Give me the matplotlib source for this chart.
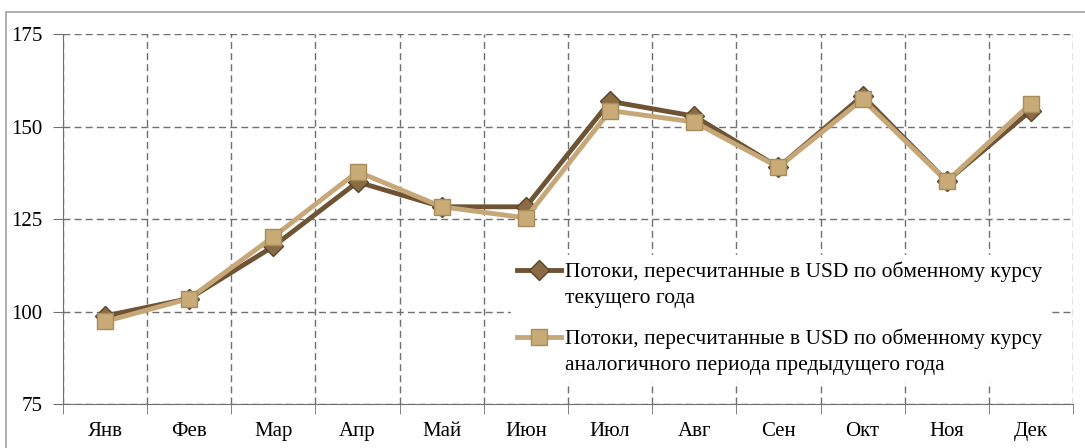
import numpy as np
import matplotlib.pyplot as plt
from matplotlib.patches import Rectangle
from matplotlib.legend_handler import HandlerLine2D

months = ["Янв", "Фев", "Мар", "Апр", "Май", "Июн", "Июл", "Авг", "Сен", "Окт", "Ноя", "Дек"]
current_rate = [98.8, 103.5, 117.6, 135.0, 128.3, 128.3, 156.8, 152.8, 139.0, 158.3, 135.2, 154.3]
prev_rate = [97.3, 103.5, 120.2, 137.8, 128.3, 125.3, 154.3, 151.2, 139.0, 157.3, 135.2, 156.2]
label_cur = "Потоки, пересчитанные в USD по обменному курсу\nтекущего года"
label_prev = "Потоки, пересчитанные в USD по обменному курсу\nаналогичного периода предыдущего года"

plt.rcParams['font.family'] = ['Liberation Serif', 'DejaVu Serif']


# legend marker sits beside the first text line, not in the middle
class FirstLineHandler(HandlerLine2D):
    def create_artists(self, legend, orig_handle, xdescent, ydescent, width, height, fontsize, trans):
        return super().create_artists(legend, orig_handle, xdescent, ydescent - 20,
                                      width, height, fontsize, trans)


fig = plt.figure(figsize=(10.85, 4.48), dpi=100)
ax = fig.add_axes([63/1085, 1-404/448, (1073-63)/1085, (404-34)/448])

# outer chart border
fig.patches.append(Rectangle((6/1085, -0.1), 1.1, 1-12/448+0.1, transform=fig.transFigure,
                             fill=False, edgecolor='#a0a0a0', linewidth=1.2))

x = np.arange(len(months))
l1, = ax.plot(x, current_rate, color='#6e5434', linewidth=3.5, marker='D', markersize=10,
              markerfacecolor='#8a6c44', markeredgecolor='#5a4328', label=label_cur, zorder=3)
l2, = ax.plot(x, prev_rate, color='#c6a878', linewidth=3.5, marker='s', markersize=12,
              markerfacecolor='#c8ab76', markeredgecolor='#a88c5c', label=label_prev, zorder=4)

ax.set_xlim(-0.5, 11.5)
ax.set_ylim(75, 175)
ax.set_yticks([75, 100, 125, 150, 175])
ax.set_xticks(x)
ax.set_xticklabels(months)
ax.set_xticks(np.arange(-0.5, 12), minor=True)
ax.tick_params(axis='x', which='major', length=0, pad=13, labelsize=15)
ax.tick_params(axis='x', which='minor', length=7, color='#707070')
ax.tick_params(axis='y', length=7, color='#707070', labelsize=15, pad=8)

ax.grid(True, axis='y', which='major', linestyle=(0, (5, 3)), color='#707070', linewidth=1)
ax.grid(True, axis='x', which='minor', linestyle=(0, (5, 3)), color='#707070', linewidth=1)
ax.set_axisbelow(True)

for s in ['top', 'right']:
    ax.spines[s].set_visible(False)
for s in ['left', 'bottom']:
    ax.spines[s].set_color('#707070')

leg = ax.legend(handles=[l1, l2], loc='upper left', bbox_to_anchor=(448/1010, 1-(255-34)/370),
                frameon=True, fontsize=15.5, handlelength=2.0, handletextpad=0.2, borderpad=0.3,
                labelspacing=0.95, borderaxespad=0,
                handler_map={l1: FirstLineHandler(), l2: FirstLineHandler()})
for t in leg.get_texts():
    t.set_linespacing(1.5)
leg.get_frame().set_facecolor('white')
leg.get_frame().set_edgecolor('white')
leg.get_frame().set_alpha(1)
leg.get_frame().set_boxstyle('square', pad=0)

fig.savefig('out.png', dpi=100)
